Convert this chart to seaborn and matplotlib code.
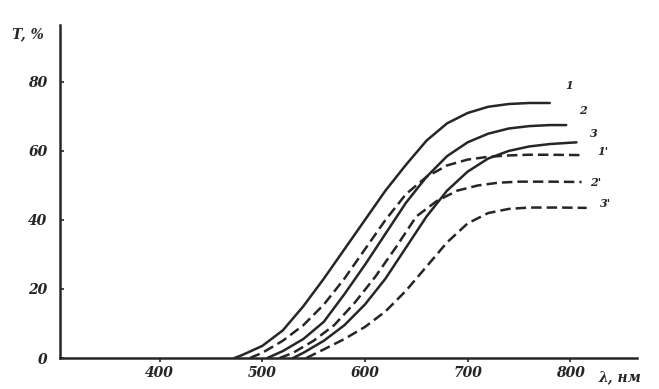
import matplotlib
matplotlib.use("Agg")
import matplotlib.pyplot as plt
import pandas as pd
import seaborn as sns

# Transmission T (%) versus wavelength (nm); solid curves 1-3, dashed curves 1'-3'
wl_1 = [473, 480, 500, 520, 540, 560, 580, 600, 620, 640, 660, 680, 700, 720, 740, 760, 780]
t_1 = [0, 0.8, 3.5, 8, 15, 23, 31.5, 40, 48.5, 56, 63, 68, 71, 72.8, 73.6, 73.9, 73.9]

wl_2 = [505, 520, 540, 560, 580, 600, 620, 640, 660, 680, 700, 720, 740, 760, 780, 796]
t_2 = [0, 2, 5.5, 10.5, 18.5, 27, 36, 45, 52.5, 58.5, 62.5, 65, 66.5, 67.2, 67.5, 67.5]

wl_3 = [530, 540, 560, 580, 600, 620, 640, 660, 680, 700, 720, 740, 760, 780, 806]
t_3 = [0, 1.5, 5, 9.5, 15.5, 23, 32, 41, 48.5, 54, 57.8, 60, 61.3, 62, 62.5]

wl_1p = [488, 500, 520, 540, 560, 580, 600, 620, 640, 660, 680, 700, 720, 740, 760, 780, 809]
t_1p = [0, 1.5, 5, 9.5, 15.5, 23, 31.5, 40, 47.5, 52.5, 55.8, 57.5, 58.3, 58.7, 58.9, 58.9, 58.8]

wl_2p = [517, 530, 550, 570, 590, 610, 630, 650, 670, 690, 710, 730, 750, 780, 811]
t_2p = [0, 1.5, 5, 9.5, 16, 23.5, 32, 41, 45.5, 48.5, 50, 50.8, 51.1, 51.1, 51]

wl_3p = [543, 560, 580, 600, 620, 640, 660, 680, 700, 720, 740, 760, 790, 816]
t_3p = [0, 2.5, 5.5, 9, 13.5, 19.5, 26.5, 33.5, 39, 42, 43.2, 43.6, 43.6, 43.5]

curve_names = ["1", "2", "3", "1'", "2'", "3'"]
curve_wl = [wl_1, wl_2, wl_3, wl_1p, wl_2p, wl_3p]
curve_t = [t_1, t_2, t_3, t_1p, t_2p, t_3p]

# Curve number labels next to the curve ends
label_wl = [795, 809, 819, 826, 819, 829]
label_t = [79, 71.6, 65.2, 59.7, 51, 44.9]

x_ticks = [400, 500, 600, 700, 800]
y_ticks = [0, 20, 40, 60, 80]

frames = [pd.DataFrame({"wl": w, "T": t, "curve": n})
          for n, w, t in zip(curve_names, curve_wl, curve_t)]
df = pd.concat(frames, ignore_index=True)

sns.set_style("ticks")
ink = "#262626"
plt.rcParams["font.family"] = ["DejaVu Serif"]

fig = plt.figure(figsize=(6.59, 3.89), dpi=100)
ax = fig.add_axes([60 / 659, 1 - 358 / 389, (637 - 60) / 659, (358 - 25) / 389])

dash_styles = {"1": "", "2": "", "3": "",
               "1'": (4.2, 2.0), "2'": (4.2, 2.0), "3'": (4.2, 2.0)}
sns.lineplot(data=df, x="wl", y="T", hue="curve", style="curve",
             palette={n: ink for n in curve_names}, dashes=dash_styles,
             linewidth=1.8, sort=True, legend=False, ax=ax)

for name, lx, ly in zip(curve_names, label_wl, label_t):
    ax.text(lx, ly, name, fontsize=8, fontstyle="italic", fontweight="bold",
            color=ink, ha="left", va="center")

ax.set_xlim(303, 865)
ax.set_ylim(0, 96.5)
ax.set_xticks(x_ticks)
ax.set_yticks(y_ticks)
ax.set_xticklabels([str(v) for v in x_ticks], fontstyle="italic",
                   fontweight="bold", fontsize=10, color=ink)
ax.set_yticklabels([str(v) for v in y_ticks], fontstyle="italic",
                   fontweight="bold", fontsize=10, color=ink)
ax.tick_params(axis="x", direction="out", length=3, width=1.2, pad=3, colors=ink)
ax.tick_params(axis="y", direction="in", length=3, width=1.2, pad=9, colors=ink)
ax.set_xlabel("")
ax.set_ylabel("")

for side in ("top", "right"):
    ax.spines[side].set_visible(False)
for side in ("left", "bottom"):
    ax.spines[side].set_color(ink)
    ax.spines[side].set_linewidth(1.8)

fig.text(12 / 659, 1 - 34 / 389, "T, %", fontsize=10, fontstyle="italic",
         fontweight="bold", color=ink, ha="left", va="center")
fig.text(598 / 659, 1 - 377 / 389, "λ, нм", fontsize=10, fontstyle="italic",
         fontweight="bold", color=ink, ha="left", va="center")

fig.savefig("out.png", dpi=100, facecolor="white")
